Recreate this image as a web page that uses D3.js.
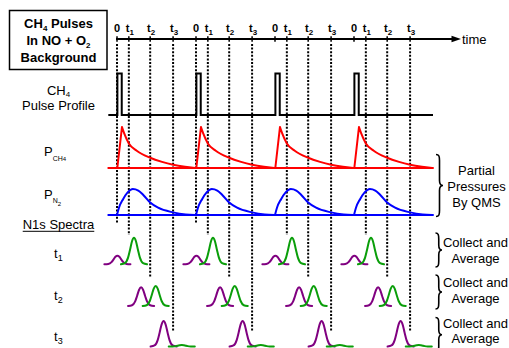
<!DOCTYPE html>
<html lang="en">
<head>
    <meta charset="utf-8">
    <title>CH4 pulses in NO + O2 background</title>
    <script type="text/javascript" src="https://cdn.jsdelivr.net/npm/d3@7/dist/d3.min.js"></script>
    <style type="text/css">
        body { margin: 0; background: #fff; }
        text { font-family: Arial, "Liberation Sans", sans-serif; fill: #000; }
    </style>
</head>
<body>
    <script type="text/javascript">

        //Width and height
        var w = 509;
        var h = 348;

        //Time data (one pulse cycle = 10 time units)
        var cycleStarts = [0, 10, 20, 30];
        var tickNames = ["0", "t1", "t2", "t3"];
        var tickOffsets = [0, 1.5, 4.2, 7.1];
        var zeroLineCycles = [0, 1];   // cycles that get a dotted line at "0"

        //CH4 valve pulse (on / off inside each cycle)
        var pulseOn = 0.05;
        var pulseOff = 0.6;

        //P(CH4) rise and decay, [time after pulse, relative pressure]
        var ch4Rise = [[0.04, 0], [0.63, 1]];
        var ch4Decay = [[0.63, 1], [0.9, 0.85], [1.5, 0.6], [2.5, 0.42], [4.2, 0.25],
                        [5.7, 0.15], [7.1, 0.08], [8.6, 0.03], [9.9, 0]];

        //P(N2) response, [time after pulse, relative pressure]
        var n2Curve = [[0, 0], [0.25, 0.28], [0.75, 0.6], [1.35, 0.87], [2.0, 1.0],
                       [2.7, 0.94], [3.3, 0.78], [4.2, 0.48], [5.2, 0.28], [7.1, 0.1],
                       [8.7, 0.02], [9.9, 0]];

        //N1s spectra: rows t1, t2, t3
        var spectraRows = ["t1", "t2", "t3"];
        var purplePeak = [0.05, 3.05, 5.9];
        var purpleHeight = [8.6, 18.7, 25.5];
        var greenPeak = [2.15, 4.9, 8.2];
        var greenHeight = [26.5, 20, 1.5];
        var peakShape = [[-1.65, 0], [-1.15, 0.04], [-0.75, 0.25], [-0.5, 0.55], [-0.25, 0.87],
                         [0, 1], [0.25, 0.87], [0.5, 0.55], [0.75, 0.25], [1.15, 0.04], [1.65, 0]];

        //Scales
        var x = d3.scaleLinear().domain([0, 40]).range([117, 433]);
        var yPulse = d3.scaleLinear().domain([0, 1]).range([115, 73.5]);
        var yCH4 = d3.scaleLinear().domain([0, 1]).range([168, 127]);
        var yN2 = d3.scaleLinear().domain([0, 1]).range([215, 189]);
        var rowBase = [264.3, 306, 346.5];
        var ySpec = rowBase.map(function (b) {
            return d3.scaleLinear().domain([0, 30]).range([b, b - 30]);
        });

        //Create SVG element
        var svg = d3.select("body")
            .append("svg")
            .attr("width", w)
            .attr("height", h);

        //helper for subscripts
        function label(g, xPos, yPos, parts, size, weight, anchor) {
            var t = g.append("text")
                .attr("x", xPos).attr("y", yPos)
                .attr("font-size", size)
                .attr("font-weight", weight || "normal")
                .attr("text-anchor", anchor || "middle");
            parts.forEach(function (p) {
                t.append("tspan")
                    .attr("font-size", p.size || size)
                    .attr("dy", p.dy || 0)
                    .text(p.t);
            });
            return t;
        }

        //Title box
        svg.append("rect")
            .attr("x", 9.5).attr("y", 10.5)
            .attr("width", 97.5).attr("height", 59)
            .attr("fill", "none").attr("stroke", "#000").attr("stroke-width", 1.5);
        label(svg, 58.5, 28, [{t: "CH"}, {t: "4", size: 8, dy: 3}, {t: " Pulses", dy: -3}], 13, "bold");
        label(svg, 58.5, 45, [{t: "In NO + O"}, {t: "2", size: 8, dy: 3}], 13, "bold");
        label(svg, 58.5, 61.5, [{t: "Background"}], 13, "bold");

        //Left labels
        label(svg, 58.5, 94.5, [{t: "CH"}, {t: "4", size: 8, dy: 2.5}], 13);
        label(svg, 58.5, 109.5, [{t: "Pulse Profile"}], 13);
        label(svg, 44, 156, [{t: "P"}, {t: "CH", size: 7, dy: 5}, {t: "4", size: 6, dy: 0}], 13, "normal", "start");
        label(svg, 44, 198.5, [{t: "P"}, {t: "N", size: 7, dy: 4.5}, {t: "2", size: 6, dy: 3}], 13, "normal", "start");
        var spec = label(svg, 58.5, 229, [{t: "N1s Spectra"}], 13);
        var sw = spec.node().getComputedTextLength();
        svg.append("line")
            .attr("x1", 58.5 - sw / 2).attr("x2", 58.5 + sw / 2)
            .attr("y1", 231.3).attr("y2", 231.3)
            .attr("stroke", "#000").attr("stroke-width", 1);
        spectraRows.forEach(function (r, i) {
            label(svg, 54, [258, 300, 341][i], [{t: "t"}, {t: r.slice(1), size: 9, dy: 3}], 13, "normal", "start");
        });

        //Dotted guide lines
        var dotEnd = [223, 235, 278, 332];
        cycleStarts.forEach(function (c, ci) {
            tickOffsets.forEach(function (o, ti) {
                if (ti === 0 && zeroLineCycles.indexOf(ci) < 0) return;
                svg.append("line")
                    .attr("x1", x(c + o)).attr("x2", x(c + o))
                    .attr("y1", 44).attr("y2", dotEnd[ti])
                    .attr("stroke", "#000").attr("stroke-width", 2)
                    .attr("stroke-dasharray", "2,1.6");
            });
        });

        //Time axis
        svg.append("line")
            .attr("x1", x(0) - 1).attr("x2", 455)
            .attr("y1", 39).attr("y2", 39)
            .attr("stroke", "#000").attr("stroke-width", 2);
        svg.append("path")
            .attr("d", "M451.5,35.8L461,39L451.5,42.2Z")
            .attr("fill", "#000");
        label(svg, 462, 43.5, [{t: "time"}], 13, "normal", "start");
        cycleStarts.forEach(function (c) {
            tickOffsets.forEach(function (o, ti) {
                var xp = x(c + o);
                svg.append("line")
                    .attr("x1", xp).attr("x2", xp)
                    .attr("y1", 36.3).attr("y2", 41.8)
                    .attr("stroke", "#000").attr("stroke-width", 1.5);
                var n = tickNames[ti];
                if (n === "0") {
                    label(svg, xp, 32, [{t: "0"}], 11, "bold");
                } else {
                    label(svg, xp + 1, 32, [{t: "t"}, {t: n.slice(1), size: 8, dy: 2.5}], 11, "bold");
                }
            });
        });

        //Pulse profile
        var pulsePts = [[-1.1, 0]];
        cycleStarts.forEach(function (c) {
            pulsePts.push([c + pulseOn, 0], [c + pulseOn, 1], [c + pulseOff, 1], [c + pulseOff, 0]);
        });
        pulsePts.push([40, 0]);
        svg.append("path")
            .attr("d", d3.line().x(function (d) { return x(d[0]); }).y(function (d) { return yPulse(d[1]); })(pulsePts))
            .attr("fill", "none").attr("stroke", "#000").attr("stroke-width", 2);

        //Pressure curves
        function pressure(yScale, color, parts) {
            var base = d3.line().x(function (d) { return x(d[0]); }).y(function (d) { return yScale(d[1]); });
            var dstr = base([[-1.1, 0], [40, 0]]);
            cycleStarts.forEach(function (c) {
                parts.forEach(function (p) {
                    var pts = p.pts.map(function (d) { return [c + d[0], d[1]]; });
                    dstr += base.curve(p.curve)(pts);
                });
            });
            svg.append("path")
                .attr("d", dstr)
                .attr("fill", "none").attr("stroke", color).attr("stroke-width", 2)
                .attr("stroke-linejoin", "round").attr("stroke-linecap", "round");
        }
        pressure(yCH4, "#ff0000", [{pts: ch4Rise, curve: d3.curveLinear}, {pts: ch4Decay, curve: d3.curveMonotoneX}]);
        pressure(yN2, "#0000ff", [{pts: n2Curve, curve: d3.curveMonotoneX}]);

        //N1s spectra
        function spectrum(ri, c, center, height, color) {
            var line = d3.line()
                .curve(d3.curveMonotoneX)
                .x(function (d) { return x(c + center + d[0]); })
                .y(function (d) { return ySpec[ri](d[1] * height); });
            svg.append("path")
                .attr("d", line(peakShape))
                .attr("fill", "none").attr("stroke", color).attr("stroke-width", 2)
                .attr("stroke-linecap", "round");
        }
        spectraRows.forEach(function (r, ri) {
            cycleStarts.forEach(function (c) {
                spectrum(ri, c, purplePeak[ri], purpleHeight[ri], "#800080");
                spectrum(ri, c, greenPeak[ri], greenHeight[ri], "#0a9e0a");
            });
        });

        //Braces on the right
        function brace(bx, y0, y1, bw) {
            var ym = (y0 + y1) / 2, m = bx + bw * 0.5;
            var d = "M" + bx + "," + y0 +
                "C" + (bx + bw * 0.45) + "," + y0 + " " + m + "," + (y0 + 2) + " " + m + "," + (y0 + 6) +
                "L" + m + "," + (ym - 5) +
                "C" + m + "," + (ym - 1.5) + " " + (bx + bw * 0.7) + "," + ym + " " + (bx + bw) + "," + ym +
                "C" + (bx + bw * 0.7) + "," + ym + " " + m + "," + (ym + 1.5) + " " + m + "," + (ym + 5) +
                "L" + m + "," + (y1 - 6) +
                "C" + m + "," + (y1 - 2) + " " + (bx + bw * 0.45) + "," + y1 + " " + bx + "," + y1;
            svg.append("path").attr("d", d)
                .attr("fill", "none").attr("stroke", "#000").attr("stroke-width", 1.6);
        }
        brace(436, 154.5, 216.5, 7);
        label(svg, 476.5, 175, [{t: "Partial"}], 13);
        label(svg, 476.5, 191, [{t: "Pressures"}], 13);
        label(svg, 476.5, 207, [{t: "By QMS"}], 13);

        [[233, 267, 247, 263], [275, 309, 287, 302.5], [317.5, 352, 328, 343]].forEach(function (b) {
            brace(435.5, b[0], b[1], 6.5);
            label(svg, 475.5, b[2], [{t: "Collect and"}], 13);
            label(svg, 475.5, b[3], [{t: "Average"}], 13);
        });
    </script>
</body>
</html>
